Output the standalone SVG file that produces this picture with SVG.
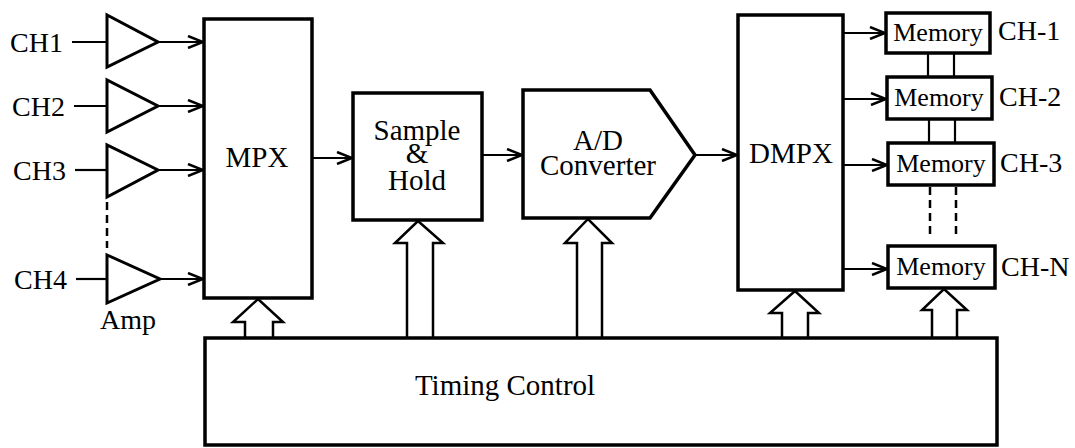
<svg xmlns="http://www.w3.org/2000/svg" width="1075" height="448" viewBox="0 0 1075 448" font-family="Liberation Serif, serif">
<style>
.lbl{font-size:29px}
.ch{font-size:28px}
.mem{font-size:26px}
.box{fill:#fff;stroke:#000;stroke-width:3.5}
.amp{fill:#fff;stroke:#000;stroke-width:3}
.ln{fill:none;stroke:#000;stroke-width:2.2}
.dash{fill:none;stroke:#000;stroke-width:2.5;stroke-dasharray:8,5}
.blk{fill:#fff;stroke:#000;stroke-width:2.5;stroke-linejoin:miter}
</style>
<defs>
<marker id="ah" markerUnits="userSpaceOnUse" markerWidth="18" markerHeight="14" refX="16" refY="7" orient="auto">
<path d="M1,1 L16,7 L1,13" fill="none" stroke="#000" stroke-width="2.5"/>
</marker>
</defs>
<g id="connectors">
<line class="ln" x1="72" y1="42" x2="107" y2="42"/>
<line class="ln" x1="74" y1="106" x2="107" y2="106"/>
<line class="ln" x1="75" y1="170" x2="107" y2="170"/>
<line class="ln" x1="76" y1="279" x2="107" y2="279"/>
<line class="dash" x1="107" y1="202" x2="107" y2="248"/>
<line class="ln" x1="158" y1="42" x2="203" y2="42" marker-end="url(#ah)"/>
<line class="ln" x1="158" y1="106" x2="203" y2="106" marker-end="url(#ah)"/>
<line class="ln" x1="158" y1="170" x2="203" y2="170" marker-end="url(#ah)"/>
<line class="ln" x1="160" y1="279" x2="203" y2="279" marker-end="url(#ah)"/>
<line class="ln" x1="313" y1="158" x2="352" y2="158" marker-end="url(#ah)"/>
<line class="ln" x1="482" y1="155" x2="522" y2="155" marker-end="url(#ah)"/>
<line class="ln" x1="695" y1="155" x2="737" y2="155" marker-end="url(#ah)"/>
<line class="ln" x1="843" y1="33" x2="885" y2="33" marker-end="url(#ah)"/>
<line class="ln" x1="843" y1="99" x2="886" y2="99" marker-end="url(#ah)"/>
<line class="ln" x1="843" y1="165" x2="887" y2="165" marker-end="url(#ah)"/>
<line class="ln" x1="843" y1="269" x2="887" y2="269" marker-end="url(#ah)"/>
<line class="ln" x1="928" y1="53" x2="928" y2="77"/>
<line class="ln" x1="954" y1="53" x2="954" y2="77"/>
<line class="ln" x1="929" y1="119" x2="929" y2="143"/>
<line class="ln" x1="955" y1="119" x2="955" y2="143"/>
<line class="dash" x1="930" y1="187" x2="930" y2="238"/>
<line class="dash" x1="956" y1="187" x2="956" y2="238"/>
<polyline class="blk" points="245,339 245,322 233,322 258,299 283,322 273,322 273,339"/>
<polyline class="blk" points="407,339 407,243 395,243 418,221 443,243 433,243 433,339"/>
<polyline class="blk" points="577,339 577,243 565,243 588,219 612,243 602,243 602,339"/>
<polyline class="blk" points="782,337 782,313 770,313 795,291 819,313 808,313 808,337"/>
<polyline class="blk" points="932,337 932,310 922,310 944,289 967,310 957,310 957,337"/>
</g>
<g id="ch-labels">
<text class="ch" x="10" y="52">CH1</text>
<text class="ch" x="12" y="116">CH2</text>
<text class="ch" x="13" y="180">CH3</text>
<text class="ch" x="14" y="289">CH4</text>
</g>
<g id="amp1"><polygon class="amp" points="107,15 107,67 158,42"/></g>
<g id="amp2"><polygon class="amp" points="107,80 107,132 158,106"/></g>
<g id="amp3"><polygon class="amp" points="107,145 107,197 158,170"/></g>
<g id="amp4"><polygon class="amp" points="107,255 107,303 160,279"/><text class="ch" x="128" y="329" text-anchor="middle">Amp</text></g>
<g id="mpx"><rect class="box" x="204" y="19" width="108" height="279"/><text class="lbl" x="257" y="167" text-anchor="middle">MPX</text></g>
<g id="sh"><rect class="box" x="353" y="93" width="129" height="127"/>
<text class="lbl" x="417" y="140" text-anchor="middle">Sample</text>
<text class="lbl" x="417" y="163" text-anchor="middle">&amp;</text>
<text class="lbl" x="417" y="190" text-anchor="middle">Hold</text></g>
<g id="adc"><polygon class="box" points="523,90 650,90 695,155 650,218 523,218"/>
<text class="lbl" x="598" y="150" text-anchor="middle">A/D</text>
<text class="lbl" x="598" y="175" text-anchor="middle">Converter</text></g>
<g id="dmpx"><rect class="box" x="738" y="15" width="105" height="275"/><text class="lbl" x="791" y="163" text-anchor="middle">DMPX</text></g>
<g id="mem1"><rect class="box" x="886" y="13" width="104" height="40"/><text class="mem" x="938" y="41" text-anchor="middle">Memory</text><text class="ch" x="998" y="40">CH-1</text></g>
<g id="mem2"><rect class="box" x="887" y="77" width="105" height="42"/><text class="mem" x="939" y="106" text-anchor="middle">Memory</text><text class="ch" x="999" y="106">CH-2</text></g>
<g id="mem3"><rect class="box" x="888" y="143" width="106" height="42"/><text class="mem" x="941" y="172" text-anchor="middle">Memory</text><text class="ch" x="1000" y="172">CH-3</text></g>
<g id="memN"><rect class="box" x="888" y="246" width="107" height="42"/><text class="mem" x="941" y="275" text-anchor="middle">Memory</text><text class="ch" x="1001" y="276">CH-N</text></g>
<g id="timing"><rect class="box" x="205" y="338" width="792" height="107"/><text class="lbl" x="505" y="395" text-anchor="middle">Timing Control</text></g>
</svg>
